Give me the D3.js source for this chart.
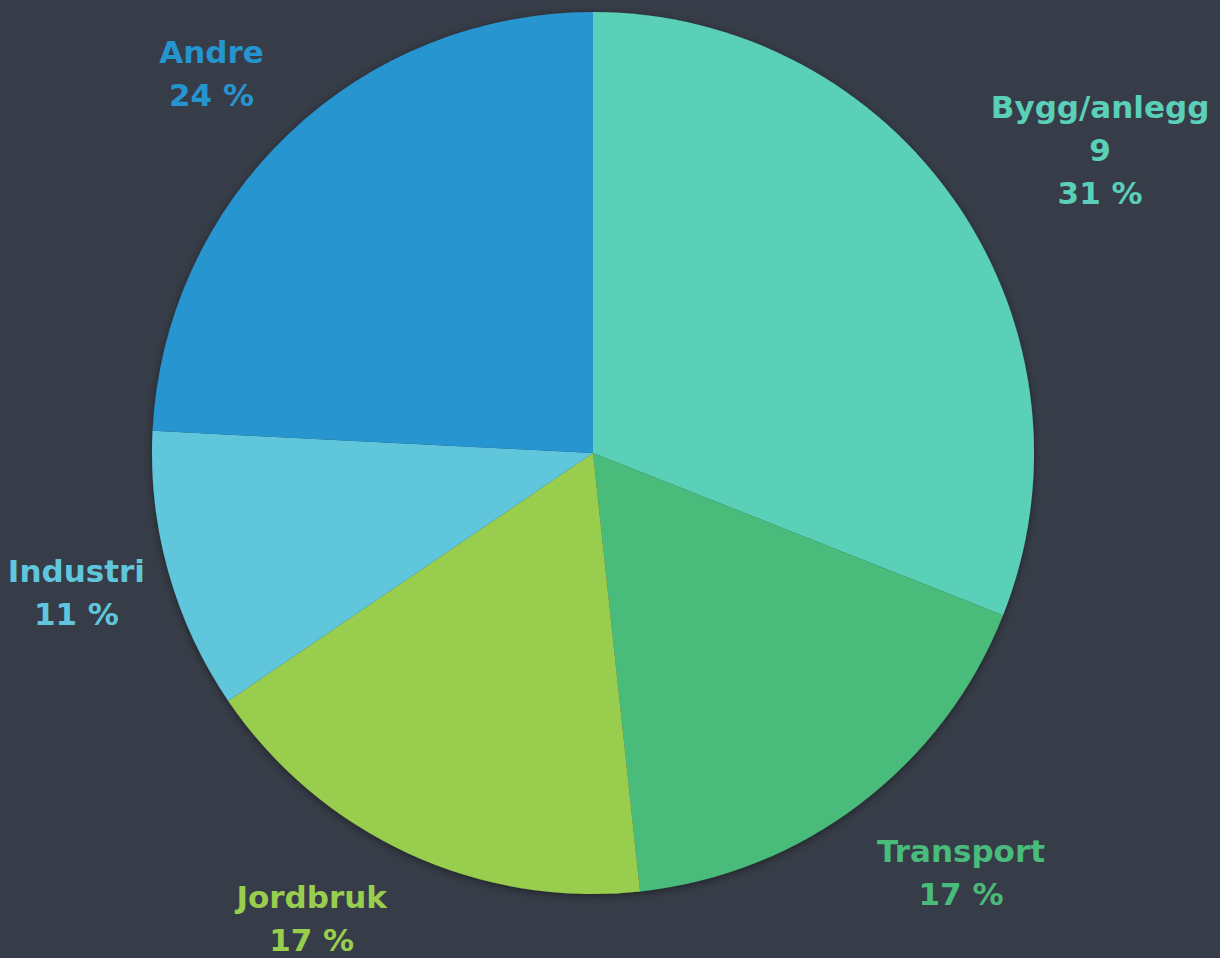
<!DOCTYPE html>
<html>
<head>
<meta charset="utf-8">
<script src="https://cdn.jsdelivr.net/npm/d3@7"></script>
<style>
  html, body { margin: 0; padding: 0; background: #373d48; }
  svg { display: block; }
  text { font-family: "DejaVu Sans", sans-serif; font-weight: bold; }
</style>
</head>
<body>
<div id="chart"></div>
<script>
// sector shares (percent), clockwise from 12 o'clock
var sectors = ["Bygg/anlegg", "Transport", "Jordbruk", "Industri", "Andre"];
var shares = [31.0, 17.3, 17.2, 10.3, 24.2];
var extraLines = [["9"], [], [], [], []];
var shownPct = ["31 %", "17 %", "17 %", "11 %", "24 %"];
var colors = ["#5ad0b8", "#49bb7a", "#99cd4e", "#60c6dc", "#2595d0"];

var width = 1220, height = 958;
var cx = 593, cy = 453, radius = 441;

var data = sectors.map(function (s, i) {
  return { name: s, value: shares[i], extra: extraLines[i], pct: shownPct[i], color: colors[i] };
});

var svg = d3.select("#chart").append("svg")
  .attr("width", width)
  .attr("height", height);

var defs = svg.append("defs");
var f = defs.append("filter").attr("id", "shadow")
  .attr("x", "-10%").attr("y", "-10%").attr("width", "120%").attr("height", "120%");
f.append("feDropShadow").attr("dx", 0).attr("dy", 2).attr("stdDeviation", 4)
  .attr("flood-color", "#000").attr("flood-opacity", 0.45);

var pie = d3.pie().sort(null).value(function (d) { return d.value; });
var arcs = pie(data);

var arc = d3.arc().innerRadius(0).outerRadius(radius);

var g = svg.append("g").attr("transform", "translate(" + cx + "," + cy + ")");

g.append("g").attr("filter", "url(#shadow)")
  .selectAll("path")
  .data(arcs)
  .join("path")
  .attr("d", arc)
  .attr("fill", function (d) { return d.data.color; })
  .attr("stroke", "none");

// label placement: [angle shift in degrees, radius]
var labelPlace = [[3.3, 591], [-4, 558], [6.3, 544], [0.6, 535], [-1.6, 538]];
var lineH = 43, fontSize = 31, capH = 22;

g.append("g").selectAll("text")
  .data(arcs)
  .join("text")
  .attr("text-anchor", "middle")
  .attr("font-size", fontSize)
  .attr("fill", function (d) { return d.data.color; })
  .each(function (d, i) {
    var a = (d.startAngle + d.endAngle) / 2 + labelPlace[i][0] * Math.PI / 180;
    var r = labelPlace[i][1];
    var x = Math.sin(a) * r;
    var y = -Math.cos(a) * r;
    var lines = [d.data.name].concat(d.data.extra).concat([d.data.pct]);
    var t = d3.select(this);
    var y0 = y - (lines.length - 1) * lineH / 2 + capH / 2;
    lines.forEach(function (l, k) {
      t.append("tspan").attr("x", x).attr("y", y0 + k * lineH).text(l);
    });
  });
</script>
</body>
</html>
